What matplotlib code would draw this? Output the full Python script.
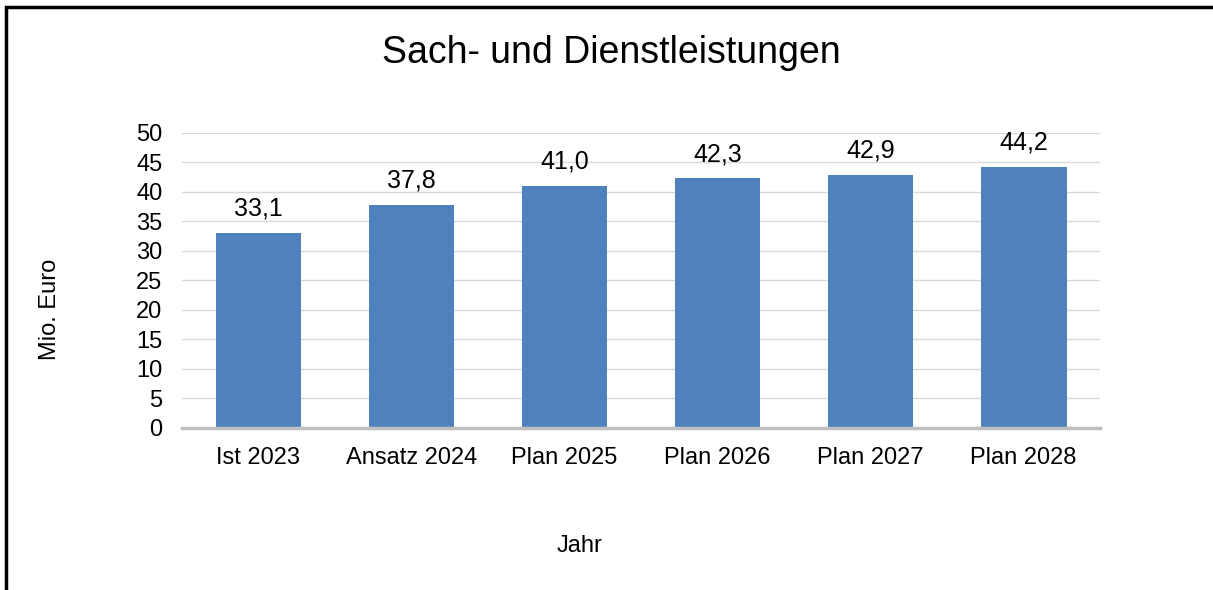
# Sach- und Dienstleistungen - Balkendiagramm
import matplotlib
matplotlib.use('Agg')
from matplotlib import pyplot as plt
from matplotlib.patches import Rectangle

# Daten
jahre = ['Ist 2023', 'Ansatz 2024', 'Plan 2025', 'Plan 2026', 'Plan 2027', 'Plan 2028']
werte = [33.1, 37.8, 41.0, 42.3, 42.9, 44.2]
y_ticks = [0, 5, 10, 15, 20, 25, 30, 35, 40, 45, 50]

plt.rcParams['font.family'] = ['Liberation Sans', 'DejaVu Sans']

fig = plt.figure(figsize=(12.13, 5.90), dpi=100)
ax = fig.add_axes([0.150, 0.2746, 0.757, 0.5])

x = range(len(jahre))
ax.bar(x, werte, width=0.56, color='#4F81BD', zorder=3)

# Beschriftungen der Balken
for xi, wert in zip(x, werte):
    ax.annotate(f'{wert:.1f}'.replace('.', ','), (xi, wert),
                xytext=(0, 12.5), textcoords='offset points',
                ha='center', va='baseline', fontsize=18)

ax.set_xlim(-0.5, len(jahre) - 0.5)
ax.set_ylim(0, 50)
ax.set_yticks(y_ticks)
ax.set_xticks(list(x))
ax.set_xticklabels(jahre)
ax.tick_params(axis='both', length=0, labelsize=17)
ax.tick_params(axis='y', pad=14)
ax.tick_params(axis='x', pad=14)

ax.grid(axis='y', color='#d9d9d9', linewidth=1, zorder=0)
for side in ['top', 'right', 'left']:
    ax.spines[side].set_visible(False)
ax.spines['bottom'].set_color('#bfbfbf')
ax.spines['bottom'].set_linewidth(2.5)
ax.spines['bottom'].set_zorder(4)

fig.text(0.504, 0.911, 'Sach- und Dienstleistungen', ha='center', va='center', fontsize=27)
fig.text(0.041, 0.475, 'Mio. Euro', ha='center', va='center', rotation=90, fontsize=17)
fig.text(0.478, 0.074, 'Jahr', ha='center', va='center', fontsize=17)

# Rahmen (rechts und unten abgeschnitten)
fig.patches.append(Rectangle((6 / 1213, -0.05), 1.1, 1 - 7 / 590 + 0.05,
                             transform=fig.transFigure, fill=False,
                             edgecolor='black', linewidth=2.5))

fig.savefig('out.png', dpi=100)
